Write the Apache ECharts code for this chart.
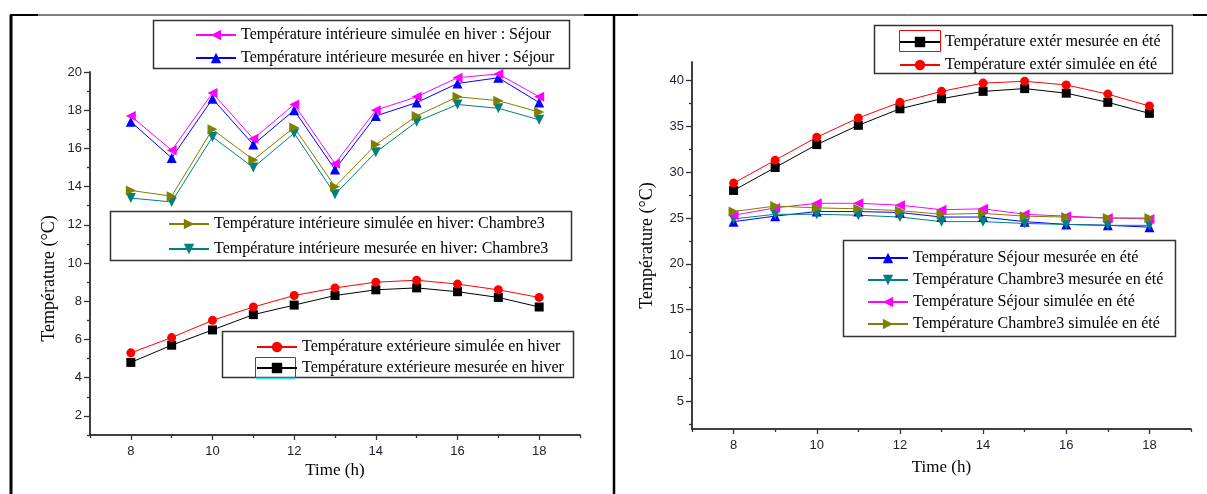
<!DOCTYPE html>
<html>
<head>
<meta charset="utf-8">
<script src="https://cdn.jsdelivr.net/npm/echarts@6/dist/echarts.min.js"></script>
<style>
html,body{margin:0;padding:0;background:#fff;}
#c{width:1207px;height:494px;}
</style>
</head>
<body>
<div id="c"></div>
<script>
// ---- categories (hours) ----
const hours = [8, 9, 10, 11, 12, 13, 14, 15, 16, 17, 18];

// ---- winter (left chart) ----
const sejourSimHiver   = [17.7, 15.9, 18.9, 16.5, 18.3, 15.2, 18.0, 18.7, 19.7, 19.9, 18.7];
const sejourMesHiver   = [17.4, 15.5, 18.6, 16.2, 18.0, 14.9, 17.7, 18.4, 19.4, 19.7, 18.4];
const chambreSimHiver  = [13.8, 13.5, 17.0, 15.4, 17.1, 14.0, 16.2, 17.7, 18.7, 18.5, 17.9];
const chambreMesHiver  = [13.4, 13.2, 16.6, 15.0, 16.8, 13.6, 15.8, 17.4, 18.3, 18.1, 17.5];
const extSimHiver      = [5.3, 6.1, 7.0, 7.7, 8.3, 8.7, 9.0, 9.1, 8.9, 8.6, 8.2];
const extMesHiver      = [4.8, 5.7, 6.5, 7.3, 7.8, 8.3, 8.6, 8.7, 8.5, 8.2, 7.7];

// ---- summer (right chart) ----
const extMesEte        = [28.0, 30.5, 33.0, 35.1, 36.9, 38.0, 38.8, 39.1, 38.6, 37.6, 36.4];
const extSimEte        = [28.8, 31.3, 33.8, 35.9, 37.6, 38.8, 39.7, 39.9, 39.5, 38.5, 37.2];
const sejourMesEte     = [24.6, 25.2, 25.7, 25.7, 25.6, 25.1, 25.1, 24.6, 24.3, 24.2, 24.0];
const chambreMesEte    = [24.9, 25.4, 25.4, 25.3, 25.1, 24.6, 24.6, 24.4, 24.3, 24.2, 24.2];
const sejourSimEte     = [25.3, 26.1, 26.6, 26.6, 26.4, 25.9, 26.0, 25.4, 25.2, 25.0, 24.9];
const chambreSimEte    = [25.7, 26.3, 26.1, 26.0, 25.8, 25.4, 25.5, 25.2, 25.1, 25.0, 25.0];

// ---- tick labels ----
const xMajorTicks      = [8, 10, 12, 14, 16, 18];
const xMinorTicks      = [7, 9, 11, 13, 15, 17, 19];
const yLeftMajorTicks  = [2, 4, 6, 8, 10, 12, 14, 16, 18, 20];
const yLeftMinorTicks  = [1, 3, 5, 7, 9, 11, 13, 15, 17, 19];
const yRightMajorTicks = [5, 10, 15, 20, 25, 30, 35, 40];
const yRightMinorTicks = [2.5, 7.5, 12.5, 17.5, 22.5, 27.5, 32.5, 37.5];

// ---- names ----
const N = {
  sSimH: 'Température intérieure simulée en hiver : Séjour',
  sMesH: 'Température intérieure mesurée en hiver : Séjour',
  cSimH: 'Température intérieure simulée en hiver: Chambre3',
  cMesH: 'Température intérieure mesurée en hiver: Chambre3',
  eSimH: 'Température extérieure simulée en hiver',
  eMesH: 'Température extérieure mesurée en hiver',
  eMesE: 'Température extér mesurée en été',
  eSimE: 'Température extér simulée en été',
  sMesE: 'Température Séjour mesurée en été',
  cMesE: 'Température Chambre3 mesurée en été',
  sSimE: 'Température Séjour simulée en été',
  cSimE: 'Température Chambre3 simulée en été'
};

const pair = arr => hours.map((h, i) => [h, arr[i]]);
const tickFont = {fontFamily: 'Liberation Sans, Arial, sans-serif', fontSize: 13, color: '#1e1e2e'};
const serif = 'Liberation Serif, Times New Roman, serif';
const axisLine = {show: true, lineStyle: {color: '#333', width: 1.5}};

function mkSeries(name, data, color, symbol, rot, size, xi, yi) {
  return {
    type: 'line', name: name, data: pair(data), xAxisIndex: xi, yAxisIndex: yi,
    symbol: symbol, symbolRotate: rot, symbolSize: size, showAllSymbol: true,
    lineStyle: {color: color, width: 1}, itemStyle: {color: color},
    emphasis: {disabled: true}
  };
}

function xAx(grid, major, gap) {
  return {
    type: 'value', gridIndex: grid, min: 7, max: 19, position: 'bottom',
    axisLine: axisLine, splitLine: {show: false},
    axisTick: major ? {show: true, length: 5, lineStyle: {color: '#333', width: 1.3}, customValues: xMajorTicks}
                    : {show: true, length: 3, lineStyle: {color: '#333', width: 1.3}, customValues: xMinorTicks},
    axisLabel: major ? Object.assign({show: true, margin: 10, customValues: xMajorTicks}, tickFont) : {show: false},
    name: major ? 'Time (h)' : '', nameLocation: 'middle', nameGap: gap, nameMoveOverlap: false,
    nameTextStyle: {fontFamily: serif, fontSize: 17, color: '#000'}
  };
}
function yAx(grid, min, max, majorT, minorT, major, gap, pad) {
  return {
    type: 'value', gridIndex: grid, min: min, max: max, position: 'left',
    axisLine: axisLine, splitLine: {show: false},
    axisTick: major ? {show: true, length: 6, lineStyle: {color: '#333', width: 1.3}, customValues: majorT}
                    : {show: true, length: 3, lineStyle: {color: '#333', width: 1.3}, customValues: minorT},
    axisLabel: major ? Object.assign({show: true, margin: 8, customValues: majorT}, tickFont) : {show: false},
    name: major ? 'Température (°C)' : '', nameLocation: 'middle', nameGap: gap, nameMoveOverlap: false,
    nameTextStyle: {fontFamily: serif, fontSize: 18, color: '#000', padding: pad}
  };
}

function legend(names, left, top, gap) {
  return {
    data: names, orient: 'vertical', left: left, top: top, itemGap: gap,
    itemWidth: 40, itemHeight: 13, padding: 0, selectedMode: false,
    textStyle: {fontFamily: serif, fontSize: 16, color: '#000', lineHeight: 16}
  };
}

const chart = echarts.init(document.getElementById('c'), null, {renderer: 'canvas'});
chart.setOption({
  animation: false,
  backgroundColor: '#fff',
  grid: [
    {left: 90, top: 72, width: 490, height: 363},
    {left: 692, top: 62, width: 499, height: 367}
  ],
  xAxis: [xAx(0, true, 27), xAx(0, false, 27), xAx(1, true, 30), xAx(1, false, 30)],
  yAxis: [
    yAx(0, 1, 20, yLeftMajorTicks, yLeftMinorTicks, true, 32, [0, 50, 0, 0]),
    yAx(0, 1, 20, yLeftMajorTicks, yLeftMinorTicks, false, 32, 0),
    yAx(1, 2, 42, yRightMajorTicks, yRightMinorTicks, true, 36, [0, 0, 0, 0]),
    yAx(1, 2, 42, yRightMajorTicks, yRightMinorTicks, false, 36, 0)
  ],
  legend: [
    legend([N.sSimH, N.sMesH], 195, 27, 7),
    legend([N.cSimH, N.cMesH], 168, 216, 9),
    legend([N.eSimH, N.eMesH], 256, 339, 5),
    legend([N.eMesE, N.eSimE], 899, 34, 7),
    legend([N.sMesE, N.cMesE, N.sSimE, N.cSimE], 867, 250, 6)
  ],
  series: [
    mkSeries(N.sMesH, sejourMesHiver, '#0000FF', 'triangle', 0, 10, 0, 0),
    mkSeries(N.sSimH, sejourSimHiver, '#FF00FF', 'triangle', 90, 10, 0, 0),
    mkSeries(N.cMesH, chambreMesHiver, '#008080', 'triangle', 180, 10, 0, 0),
    mkSeries(N.cSimH, chambreSimHiver, '#808000', 'triangle', -90, 10, 0, 0),
    mkSeries(N.eMesH, extMesHiver, '#000000', 'rect', 0, 9, 0, 0),
    mkSeries(N.eSimH, extSimHiver, '#FF0000', 'circle', 0, 9, 0, 0),
    mkSeries(N.eMesE, extMesEte, '#000000', 'rect', 0, 9, 2, 2),
    mkSeries(N.eSimE, extSimEte, '#FF0000', 'circle', 0, 9, 2, 2),
    mkSeries(N.sMesE, sejourMesEte, '#0000FF', 'triangle', 0, 10, 2, 2),
    mkSeries(N.cMesE, chambreMesEte, '#008080', 'triangle', 180, 10, 2, 2),
    mkSeries(N.sSimE, sejourSimEte, '#FF00FF', 'triangle', 90, 10, 2, 2),
    mkSeries(N.cSimE, chambreSimEte, '#808000', 'triangle', -90, 10, 2, 2)
  ],
  graphic: [
    // page frame
    {type: 'line', shape: {x1: 10, y1: 15, x2: 1207, y2: 15}, style: {stroke: '#000', lineWidth: 1}, silent: true},
    {type: 'line', shape: {x1: 10, y1: 15, x2: 38, y2: 15}, style: {stroke: '#000', lineWidth: 2}, silent: true},
    {type: 'line', shape: {x1: 584, y1: 15, x2: 638, y2: 15}, style: {stroke: '#000', lineWidth: 2}, silent: true},
    {type: 'line', shape: {x1: 1193, y1: 15, x2: 1207, y2: 15}, style: {stroke: '#000', lineWidth: 2}, silent: true},
    {type: 'line', shape: {x1: 11, y1: 15, x2: 11, y2: 494}, style: {stroke: '#000', lineWidth: 3}, silent: true},
    {type: 'line', shape: {x1: 614, y1: 15, x2: 614, y2: 494}, style: {stroke: '#000', lineWidth: 2.5}, silent: true},
    // legend boxes
    {type: 'rect', shape: {x: 153.5, y: 20.5, width: 416, height: 48}, style: {fill: 'none', stroke: '#333', lineWidth: 1.5}, silent: true, z: -1},
    {type: 'rect', shape: {x: 110.5, y: 211.5, width: 461, height: 49}, style: {fill: 'none', stroke: '#333', lineWidth: 1.5}, silent: true, z: -1},
    {type: 'rect', shape: {x: 222.5, y: 331.5, width: 351, height: 46}, style: {fill: 'none', stroke: '#333', lineWidth: 1.5}, silent: true, z: -1},
    {type: 'rect', shape: {x: 874.5, y: 25.5, width: 298, height: 48}, style: {fill: 'none', stroke: '#333', lineWidth: 1.5}, silent: true, z: -1},
    {type: 'rect', shape: {x: 843.5, y: 240.5, width: 332, height: 96}, style: {fill: 'none', stroke: '#333', lineWidth: 1.5}, silent: true, z: -1},
    // stray marks around legend samples
    {type: 'rect', shape: {x: 255.5, y: 357.5, width: 40, height: 20}, style: {fill: 'none', stroke: '#FF0000', lineWidth: 1}, silent: true},
    {type: 'line', shape: {x1: 256, y1: 378.5, x2: 296, y2: 378.5}, style: {stroke: '#33E0E0', lineWidth: 1.5}, silent: true},
    {type: 'rect', shape: {x: 899.5, y: 30.5, width: 41, height: 21}, style: {fill: 'none', stroke: '#FF0000', lineWidth: 1}, silent: true}
  ]
});
</script>
</body>
</html>
